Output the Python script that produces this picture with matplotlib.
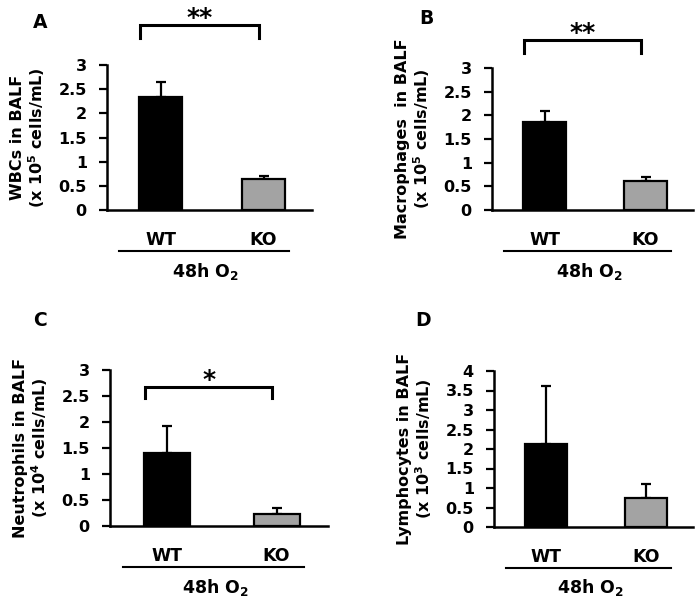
import numpy as np
import matplotlib
matplotlib.use('Agg')
import matplotlib.pyplot as plt
from matplotlib.transforms import offset_copy

plt.rcParams['font.family'] = 'DejaVu Sans'
plt.rcParams['font.weight'] = 'bold'
plt.rcParams['mathtext.default'] = 'bf'

# data
groups = ['WT', 'KO']
wbc_mean = [2.34, 0.64]
wbc_err = [0.30, 0.07]
mac_mean = [1.85, 0.61]
mac_err = [0.25, 0.09]
neu_mean = [1.41, 0.24]
neu_err = [0.51, 0.10]
lym_mean = [2.14, 0.75]
lym_err = [1.47, 0.34]

ticks_3 = [0, 0.5, 1, 1.5, 2, 2.5, 3]
ticks_4 = [0, 0.5, 1, 1.5, 2, 2.5, 3, 3.5, 4]
tick_lbls_3 = ['0', '0.5', '1', '1.5', '2', '2.5', '3']
tick_lbls_4 = ['0', '0.5', '1', '1.5', '2', '2.5', '3', '3.5', '4']

bar_colors = ['black', '#a3a3a3']

W, H = 700, 602
fig = plt.figure(figsize=(W / 100, H / 100), dpi=100)


def add_ax(left, right, y0, ytop):
    # pixel box -> figure fraction
    return fig.add_axes([left / W, 1 - y0 / H, (right - left) / W, (y0 - ytop) / H])


def panel(ax, means, errs, ticks, tick_lbls, ylabel, stars=None, br=None):
    x = np.arange(len(groups))
    ax.bar(x, means, width=0.42, color=bar_colors, edgecolor='black', linewidth=1.6, zorder=2)
    ax.errorbar(x, means, yerr=[np.zeros(len(errs)), errs], fmt='none', ecolor='black',
                elinewidth=1.6, capsize=3.6, capthick=1.6, zorder=1)
    ax.set_xlim(-0.52, 1.47)
    ax.set_ylim(ticks[0], ticks[-1])
    ax.set_yticks(ticks)
    ax.set_yticklabels(tick_lbls, fontsize=11.5, fontweight='bold')
    ax.set_xticks(x)
    ax.set_xticklabels(groups, fontsize=12.5, fontweight='bold')
    ax.tick_params(axis='x', length=0, pad=15)
    ax.tick_params(axis='y', direction='out', length=5.5, width=1.6, pad=9)
    for s in ['top', 'right']:
        ax.spines[s].set_visible(False)
    for s in ['left', 'bottom']:
        ax.spines[s].set_linewidth(1.8)
    ax.set_ylabel(ylabel, fontsize=11.5, fontweight='bold', labelpad=8, linespacing=1.1)

    # group underline and condition label
    tr = ax.get_xaxis_transform()
    ax.plot([-0.4, 1.25], [0, 0], color='black', lw=1.5, clip_on=False,
            transform=offset_copy(tr, fig, y=-41, units='dots'))
    ax.text(0.44, 0, '48h O$_2$', ha='center', va='center', fontsize=12.5, fontweight='bold',
            transform=offset_copy(tr, fig, y=-61, units='dots'))

    if stars is not None:
        top, leg = br
        ax.plot([-0.2, -0.2, 0.96, 0.96], [leg, top, top, leg], color='black', lw=2.2,
                clip_on=False, solid_joinstyle='miter')
        ax.text(0.38, top, stars, ha='center', va='baseline', fontsize=18, fontweight='bold',
                clip_on=False)


axA = add_ax(107, 312, 210, 65)
panel(axA, wbc_mean, wbc_err, ticks_3, tick_lbls_3,
      'WBCs in BALF\n(x 10$^5$ cells/mL)', '**', (3.83, 3.56))
axB = add_ax(492, 693, 210, 68)
panel(axB, mac_mean, mac_err, ticks_3, tick_lbls_3,
      'Macrophages  in BALF\n(x 10$^5$ cells/mL)', '**', (3.60, 3.32))
axC = add_ax(110, 328, 526, 370)
panel(axC, neu_mean, neu_err, ticks_3, tick_lbls_3,
      'Neutrophils in BALF\n(x 10$^4$ cells/mL)', '*', (2.67, 2.46))
axD = add_ax(494, 693, 527, 371)
panel(axD, lym_mean, lym_err, ticks_4, tick_lbls_4,
      'Lymphocytes in BALF\n(x 10$^3$ cells/mL)')

for lbl, px, py in [('A', 40, 22), ('B', 426, 18), ('C', 40, 320), ('D', 423, 320)]:
    fig.text(px / W, 1 - py / H, lbl, ha='center', va='center', fontsize=13.5, fontweight='bold')

fig.savefig('out.png', dpi=100)
